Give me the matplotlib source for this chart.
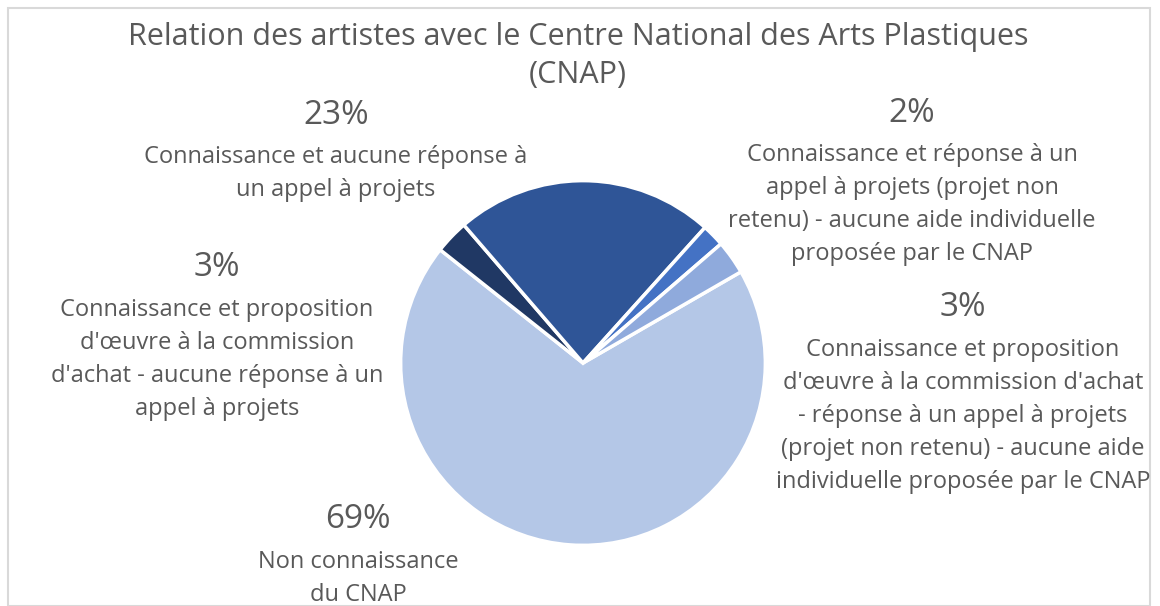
import matplotlib.pyplot as plt
from matplotlib.patches import Rectangle

plt.rcParams['font.family'] = ['Open Sans', 'DejaVu Sans']

# données (ordre de tracé, sens horaire)
parts = [69, 3, 23, 2, 3]
labels = ['Non connaissance\ndu CNAP',
          "Connaissance et proposition\nd'œuvre à la commission\nd'achat - aucune réponse à un\nappel à projets",
          'Connaissance et aucune réponse à\nun appel à projets',
          'Connaissance et réponse à un\nappel à projets (projet non\nretenu) - aucune aide individuelle\nproposée par le CNAP',
          "Connaissance et proposition\nd'œuvre à la commission d'achat\n- réponse à un appel à projets\n(projet non retenu) - aucune aide\nindividuelle proposée par le CNAP"]
colors = ['#b4c7e7', '#203864', '#2f5597', '#4472c4', '#8faadc']
title = 'Relation des artistes avec le Centre National des Arts Plastiques\n(CNAP)'

W, H = 1160, 606
fig = plt.figure(figsize=(W / 100, H / 100), dpi=100)

# cadre gris
fig.patches.append(Rectangle((8 / W, 0), (W - 18) / W, 1 - 8 / H, transform=fig.transFigure,
                             fill=False, edgecolor='#d9d9d9', linewidth=1.5))

cx, cy, r = 583, 363, 186
ax = fig.add_axes([(cx - r) / W, (H - cy - r) / H, 2 * r / W, 2 * r / H])
ax.pie(parts, colors=colors, startangle=30, counterclock=False,
       wedgeprops=dict(edgecolor='white', linewidth=2.5))
ax.set_xlim(-1.02, 1.02)
ax.set_ylim(-1.02, 1.02)
ax.set_aspect('equal')
ax.axis('off')

gray = '#595959'
for i, line in enumerate(title.split('\n')):
    fig.text(578 / W, 1 - (37 + 38 * i) / H, line, ha='center', va='center',
             fontsize=22, color=gray)

# positions (pixels) des pourcentages ; texte dessous, une ligne tous les 33 px
pct_pos = [(358, 520), (217, 268), (336, 115), (912, 113), (963, 308)]
for p, lab, (x, y) in zip(parts, labels, pct_pos):
    fig.text(x / W, 1 - y / H, f'{p}%', ha='center', va='center', fontsize=24, color=gray)
    for i, line in enumerate(lab.split('\n')):
        fig.text(x / W, 1 - (y + 42 + 33 * i) / H, line, ha='center', va='center',
                 fontsize=17, color=gray)

fig.savefig('out.png', dpi=100)
